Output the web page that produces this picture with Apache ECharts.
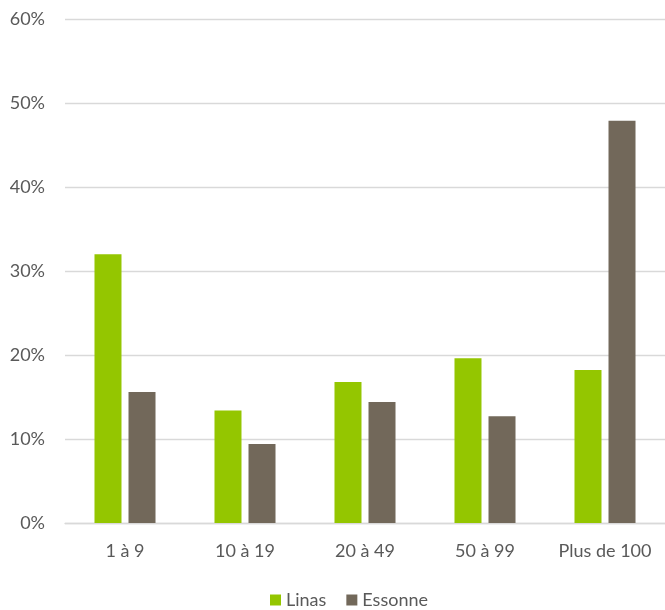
<!DOCTYPE html>
<html>
<head>
<meta charset="utf-8">
<script src="https://cdn.jsdelivr.net/npm/echarts@6/dist/echarts.min.js"></script>
<style>
html,body{margin:0;padding:0;background:#fff;}
#chart{width:665px;height:610px;}
</style>
</head>
<body>
<div id="chart"></div>
<script>
const categories = ['1 à 9', '10 à 19', '20 à 49', '50 à 99', 'Plus de 100'];
const linas = [32.0, 13.4, 16.8, 19.6, 18.2];
const essonne = [15.6, 9.4, 14.4, 12.7, 47.9];
const seriesNames = ['Linas', 'Essonne'];
const yTicks = { min: 0, max: 60, interval: 10 };

const textColor = '#595959';
const font = 'Lato, "Open Sans", sans-serif';

const chart = echarts.init(document.getElementById('chart'), null, { renderer: 'canvas' });
chart.setOption({
  animation: false,
  backgroundColor: '#ffffff',
  grid: { left: 65, top: 19, width: 604, height: 504, containLabel: false },
  legend: {
    data: seriesNames,
    left: 265,
    top: 586,
    itemWidth: 11,
    itemHeight: 11,
    itemGap: 20,
    icon: 'rect',
    textStyle: { color: textColor, fontSize: 18, fontFamily: font }
  },
  xAxis: {
    type: 'category',
    data: categories,
    axisLine: { show: true, lineStyle: { color: '#D9D9D9', width: 1.3 } },
    axisTick: { show: false },
    axisLabel: { color: textColor, fontSize: 18, fontFamily: font, margin: 19, interval: 0 }
  },
  yAxis: {
    type: 'value',
    min: yTicks.min,
    max: yTicks.max,
    interval: yTicks.interval,
    axisLine: { show: false },
    axisTick: { show: false },
    axisLabel: { color: textColor, fontSize: 18, fontFamily: font, margin: 20, formatter: '{value}%' },
    splitLine: { show: true, lineStyle: { color: '#D9D9D9', width: 1.3 } }
  },
  series: [
    { name: seriesNames[0], type: 'bar', data: linas, barWidth: 27, barGap: '26%', itemStyle: { color: '#94C600' } },
    { name: seriesNames[1], type: 'bar', data: essonne, barWidth: 27, barGap: '26%', itemStyle: { color: '#72685A' } }
  ]
});
</script>
</body>
</html>
